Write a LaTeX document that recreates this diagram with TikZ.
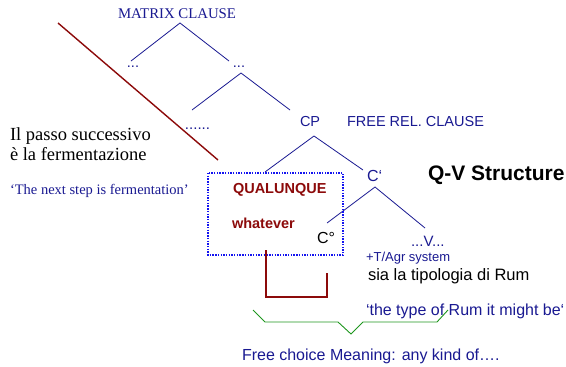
\documentclass[tikz,border=0pt]{standalone}
\usepackage{fontspec}
\setmainfont{Liberation Serif}
\setsansfont{Liberation Sans}
\definecolor{navy}{RGB}{25,25,145}
\definecolor{darkred}{RGB}{140,10,10}
\definecolor{boxblue}{RGB}{20,20,240}
\definecolor{brgreen}{RGB}{30,150,30}
\tikzset{
  treeline/.style={draw=navy, line width=0.8pt},
  lbl/.style={inner sep=0pt, outer sep=0pt},
}
\begin{document}
\begin{tikzpicture}[x=1pt,y=-1pt]
\useasboundingbox (0,0) rectangle (566,367);
% text nodes
\node[lbl, anchor=base, text=navy, font=\fontsize{14.8}{15}\selectfont] (matrix) at (177,18.3) {MATRIX CLAUSE};
\node[lbl, anchor=base, text=navy, font=\sffamily\fontsize{14.5}{15}\selectfont] (dl) at (133,67.5) {...};
\node[lbl, anchor=base, text=navy, font=\sffamily\fontsize{14.5}{15}\selectfont] (dr) at (239,67.5) {...};
\node[lbl, anchor=base, text=navy, font=\sffamily\fontsize{15}{15}\selectfont] (dd) at (197.5,129) {......};
\node[lbl, anchor=base west, text=navy, font=\sffamily\fontsize{14.5}{15}\selectfont] (cp) at (300,126) {CP};
\node[lbl, anchor=base west, text=navy, font=\sffamily\fontsize{14.5}{15}\selectfont] (free) at (347,126) {FREE REL. CLAUSE};
\node[lbl, anchor=base west, text=navy, font=\sffamily\fontsize{16}{16}\selectfont] (cbar) at (367,181) {C‘};
\node[lbl, anchor=base west, font=\sffamily\bfseries\fontsize{21}{21}\selectfont] (qv) at (428,180) {Q-V Structure};
\node[lbl, anchor=base west, text=darkred, font=\sffamily\bfseries\fontsize{14.5}{15}\selectfont] (qual) at (233,193) {QUALUNQUE};
\node[lbl, anchor=base west, text=darkred, font=\sffamily\bfseries\fontsize{14.5}{15}\selectfont] (what) at (232,228) {whatever};
\node[lbl, anchor=base west, font=\sffamily\fontsize{16}{16}\selectfont] (c0) at (317,243) {C°};
\node[lbl, anchor=base west, text=navy, font=\sffamily\fontsize{15}{15}\selectfont] (vv) at (411,246) {...V...};
\node[lbl, anchor=base west, text=navy, font=\sffamily\fontsize{13}{13}\selectfont] (tagr) at (366,261) {+T/Agr system};
\node[lbl, anchor=base west, font=\sffamily\fontsize{16.5}{17}\selectfont] (sia) at (368,280) {sia la tipologia di Rum};
\node[lbl, anchor=base west, text=navy, font=\sffamily\fontsize{16}{16}\selectfont] (type) at (366,315) {‘the type of Rum it might be‘};
\node[lbl, anchor=base west, text=navy, font=\sffamily\fontsize{16}{16}\selectfont] (fc) at (242,360) {Free choice Meaning: any kind of….};
\node[lbl, anchor=base west, font=\fontsize{18.5}{19}\selectfont] (il) at (10,140) {Il passo successivo};
\node[lbl, anchor=base west, font=\fontsize{18.5}{19}\selectfont] (fer) at (10,160) {è la fermentazione};
\node[lbl, anchor=base west, text=navy, font=\fontsize{14.5}{15}\selectfont] (eng) at (10,194) {‘The next step is fermentation’};
% tree coordinates
\coordinate (a1) at (180,23);
\coordinate (a1l) at (131,61);
\coordinate (a1r) at (229,61);
\coordinate (a2) at (241,73);
\coordinate (a2l) at (192,110);
\coordinate (a2r) at (290,110);
\coordinate (a3) at (314,136);
\coordinate (a3l) at (265,172);
\coordinate (a3r) at (363,170);
\coordinate (a4) at (375,187);
\coordinate (a4l) at (327,223);
\coordinate (a4r) at (425,228);
\draw[treeline] (a1l) -- (a1) -- (a1r);
\draw[treeline] (a2l) -- (a2) -- (a2r);
\draw[treeline] (a3l) -- (a3) -- (a3r);
\draw[treeline] (a4l) -- (a4) -- (a4r);
% red diagonal
\coordinate (r1) at (58,23);
\coordinate (r2) at (218,160);
\draw[darkred, line width=1.4pt] (r1) -- (r2);
% dotted box
\draw[boxblue, line width=2.4pt, dash pattern=on 1.4pt off 1.3pt] (208,173) rectangle (343,255);
% red bracket
\coordinate (b1) at (266,250);
\coordinate (b2) at (327,273);
\draw[darkred, line width=1.4pt] (b1) -- (266,297) -- (327,297) -- (b2);
% green brace
\coordinate (g1) at (253,310);
\coordinate (g2) at (448,310);
\draw[brgreen, line width=0.9pt] (g1) -- (265,322) -- (338,322) -- (351,334) -- (363,322) -- (437,322) -- (g2);
\end{tikzpicture}
\end{document}
